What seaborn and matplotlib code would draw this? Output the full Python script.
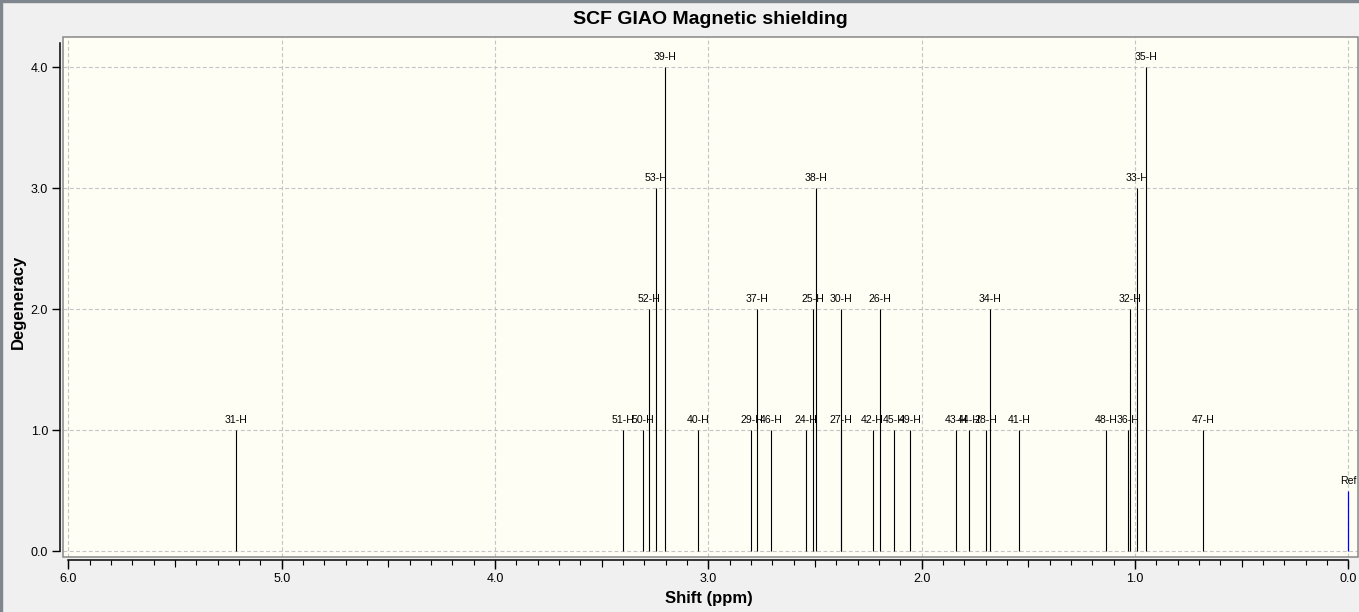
import matplotlib
matplotlib.use('Agg')
import matplotlib.pyplot as plt
import matplotlib.patches as mpatches
from matplotlib.ticker import MultipleLocator, FormatStrFormatter
import seaborn as sns
import pandas as pd

# peak data
peak_labels = ['31-H', '51-H', '50-H', '52-H', '53-H', '39-H', '40-H', '29-H', '37-H', '46-H',
               '24-H', '25-H', '38-H', '27-H', '30-H', '42-H', '26-H', '45-H', '49-H', '43-H',
               '44-H', '28-H', '34-H', '41-H', '48-H', '36-H', '32-H', '33-H', '35-H', '47-H']
shifts = [5.214, 3.398, 3.305, 3.277, 3.244, 3.202, 3.047, 2.798, 2.770, 2.705,
          2.541, 2.508, 2.494, 2.377, 2.377, 2.230, 2.194, 2.128, 2.053, 1.838,
          1.777, 1.697, 1.678, 1.542, 1.134, 1.031, 1.022, 0.989, 0.947, 0.680]
degeneracy = [1, 1, 1, 2, 3, 4, 1, 1, 2, 1,
              1, 2, 3, 1, 2, 1, 2, 1, 1, 1,
              1, 1, 2, 1, 1, 1, 2, 3, 4, 1]

ref_label = ['Ref']
ref_shift = [0.0]
ref_height = [0.5]

x_ticks = [6.0, 5.0, 4.0, 3.0, 2.0, 1.0, 0.0]
y_ticks = [0.0, 1.0, 2.0, 3.0, 4.0]

peaks = pd.DataFrame({'label': peak_labels, 'shift': shifts, 'deg': degeneracy})
ref = pd.DataFrame({'label': ref_label, 'shift': ref_shift, 'deg': ref_height})

sns.set_theme(style='ticks')
plt.rcParams['font.family'] = ['Liberation Sans', 'DejaVu Sans']
plt.rcParams['text.color'] = 'black'
plt.rcParams['axes.labelcolor'] = 'black'
plt.rcParams['xtick.color'] = 'black'
plt.rcParams['ytick.color'] = 'black'

W, H = 1359, 612
fig = plt.figure(figsize=(W / 100, H / 100), dpi=100, facecolor='#F0F0F0')
ax_left, ax_right, ax_top, ax_bottom = 63.3, 1357.7, 37.3, 557.3
ax = fig.add_axes([ax_left / W, 1 - ax_bottom / H, (ax_right - ax_left) / W, (ax_bottom - ax_top) / H])
ax.set_facecolor('#FFFEF5')

ax.vlines(peaks['shift'], 0, peaks['deg'], color='black', lw=0.8, zorder=3)
ax.vlines(ref['shift'], 0, ref['deg'], color='#0000FF', lw=0.9, zorder=3)

for _, row in pd.concat([peaks, ref]).iterrows():
    ax.annotate(row['label'], (row['shift'], row['deg']), xytext=(0, 3.6), textcoords='offset points',
                ha='center', va='bottom', fontsize=7.6, color='black', zorder=2)

ax.set_xlim(6.024, -0.044)
ax.set_ylim(-0.05, 4.248)

ax.set_xticks(x_ticks)
ax.set_yticks(y_ticks)
ax.xaxis.set_major_formatter(FormatStrFormatter('%.1f'))
ax.yaxis.set_major_formatter(FormatStrFormatter('%.1f'))
ax.xaxis.set_minor_locator(MultipleLocator(0.1))
ax.tick_params(axis='x', which='major', length=6.5, width=1, pad=3, labelsize=9, color='black',
               labelcolor='black')
ax.tick_params(axis='x', which='minor', length=3.6, width=0.8, color='black')
ax.tick_params(axis='y', which='major', length=5.8, width=1, pad=3, labelsize=9, color='black',
               labelcolor='black')
ax.tick_params(axis='y', which='minor', length=0)

# slightly longer ticks at the half-ppm marks
sec = ax.secondary_xaxis(-3 / (ax_bottom - ax_top))
sec.xaxis.set_major_locator(MultipleLocator(0.5))
sec.tick_params(axis='x', length=5.0, width=0.8, labelbottom=False, color='black')
sec.spines['bottom'].set_visible(False)

ax.grid(True, which='major', color='#C4C4C4', lw=0.8, ls=(0, (3.5, 2.2)))
ax.set_axisbelow(True)

for side in ['top', 'right']:
    ax.spines[side].set_visible(False)
ax.spines['left'].set_position(('outward', 2.2))
ax.spines['bottom'].set_position(('outward', 2.0))
ax.spines['left'].set_bounds(0, 4.2)
ax.spines['bottom'].set_bounds(0, 6)
for side in ['left', 'bottom']:
    ax.spines[side].set_color('black')
    ax.spines[side].set_linewidth(1.1)

frame = mpatches.Rectangle((0, 0), 1, 1, transform=ax.transAxes, fill=False,
                           edgecolor='#888888', lw=1.1, clip_on=False, zorder=5)
ax.add_patch(frame)

# window border
fig.add_artist(mpatches.Rectangle((0, 0), 2 / W, 1, transform=fig.transFigure, color='#80868E'))
fig.add_artist(mpatches.Rectangle((0, 1 - 2 / H), 1, 2 / H, transform=fig.transFigure, color='#80868E'))

fig.text(710 / W, 1 - 19.5 / H, 'SCF GIAO Magnetic shielding', ha='center', va='center',
         fontsize=14, fontweight='bold', color='black')
fig.text(708.5 / W, 1 - 598 / H, 'Shift (ppm)', ha='center', va='center', fontsize=12,
         fontweight='bold', color='black')
fig.text(18 / W, 1 - 302 / H, 'Degeneracy', ha='center', va='center', rotation=90,
         fontsize=12, fontweight='bold', color='black')

fig.savefig('out.png', dpi=100, facecolor=fig.get_facecolor())
